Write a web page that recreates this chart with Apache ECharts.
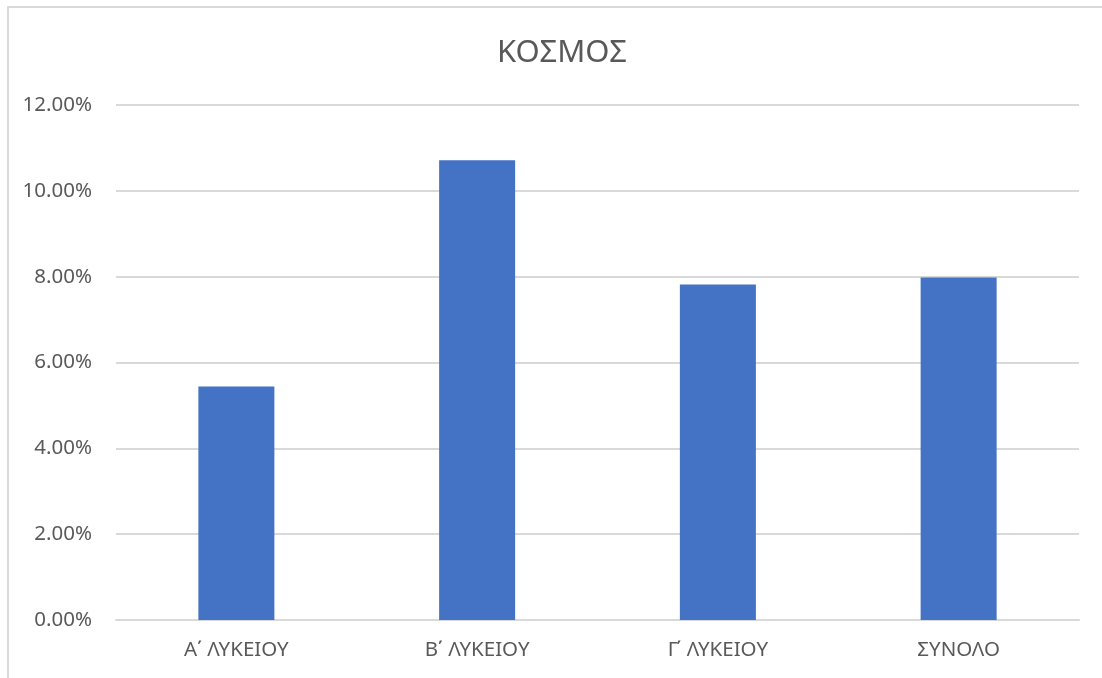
<!DOCTYPE html>
<html>
<head>
<meta charset="utf-8">
<script src="https://cdn.jsdelivr.net/npm/echarts@6/dist/echarts.min.js"></script>
<style>
    html, body { margin: 0; padding: 0; background: #fff; overflow: hidden; }
    #frame {
        position: absolute; left: 7px; top: 6px; width: 1200px; height: 800px;
        border-left: 2px solid #d9d9d9; border-top: 2px solid #d9d9d9;
    }
    #chart { position: absolute; left: 0; top: 0; width: 1102px; height: 678px; }
</style>
</head>
<body>
<div id="frame"></div>
<div id="chart"></div>
<script>
// 数据
const categories = ['Α΄ ΛΥΚΕΙΟΥ', 'Β΄ ΛΥΚΕΙΟΥ', 'Γ΄ ΛΥΚΕΙΟΥ', 'ΣΥΝΟΛΟ'];
const values = [5.44, 10.71, 7.82, 7.98];
const yTicks = [0, 2, 4, 6, 8, 10, 12];

const textColor = '#595959';
const font = 'Noto Sans';

function initChart() {
    const chartDom = document.getElementById('chart');
    const myChart = echarts.init(chartDom);

    const option = {
        backgroundColor: 'transparent',
        animation: false,
        title: {
            text: 'ΚΟΣΜΟΣ',
            left: 557,
            top: 33,
            textAlign: 'center',
            textStyle: {
                color: textColor,
                fontFamily: font,
                fontSize: 31,
                fontWeight: 'normal'
            }
        },
        grid: {
            left: 116,
            right: 23,
            top: 105,
            bottom: 58
        },
        xAxis: {
            type: 'category',
            data: categories,
            axisLine: { show: true, lineStyle: { color: '#d9d9d9', width: 2 } },
            axisTick: { show: false },
            axisLabel: {
                color: textColor,
                fontFamily: font,
                fontSize: 20.5,
                margin: 20
            }
        },
        yAxis: {
            type: 'value',
            min: yTicks[0],
            max: yTicks[yTicks.length - 1],
            interval: 2,
            axisLine: { show: false },
            axisTick: { show: false },
            axisLabel: {
                color: textColor,
                fontFamily: font,
                fontSize: 20.5,
                margin: 24,
                padding: [8, 0, 0, 0],
                formatter: function (v) {
                    return v.toFixed(2) + '%';
                }
            },
            splitLine: { lineStyle: { color: '#d9d9d9', width: 2 } }
        },
        series: [
            {
                type: 'bar',
                data: values,
                barWidth: 76,
                itemStyle: { color: '#4472c4' }
            }
        ]
    };

    myChart.setOption(option);
}

initChart();
</script>
</body>
</html>
